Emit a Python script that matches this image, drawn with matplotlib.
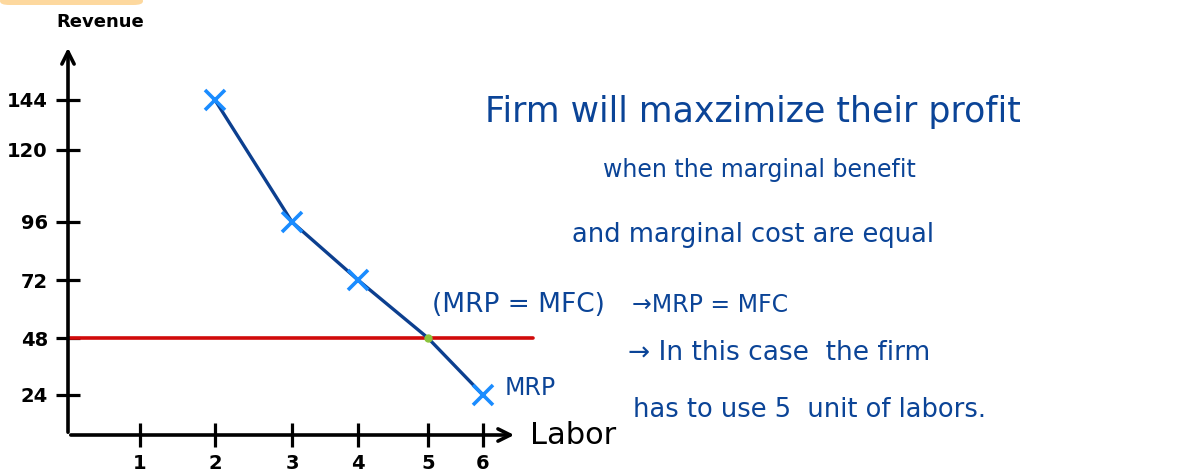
import numpy as np
import matplotlib
matplotlib.use("Agg")
import matplotlib.pyplot as plt
from matplotlib.patches import FancyBboxPatch

labor = [2, 3, 4, 5, 6]
mrp = [144, 96, 72, 48, 24]
marked_labor = [2, 3, 4, 6]
marked_mrp = [144, 96, 72, 24]
mfc = 48
y_ticks = [24, 48, 72, 96, 120, 144]
x_ticks = [1, 2, 3, 4, 5, 6]

W, H = 1192, 475
hand = ['DejaVu Sans']
navy = '#0c3f8f'
ink = '#0b4497'

# the sketch's axes are hand drawn, so tick spacing is uneven: map values to pixel offsets
x_anchor_val = [0, 1, 2, 3, 4, 5, 6, 7]
x_anchor_px = [0, 72, 147, 224, 290, 360, 415, 477]
y_anchor_val = [0, 24, 48, 72, 96, 120, 144, 170]
y_anchor_px = [0, 40, 97, 155, 213, 285, 335, 395]


def fx(v):
    return np.interp(v, x_anchor_val, x_anchor_px)


def ifx(p):
    return np.interp(p, x_anchor_px, x_anchor_val)


def fy(v):
    return np.interp(v, y_anchor_val, y_anchor_px)


def ify(p):
    return np.interp(p, y_anchor_px, y_anchor_val)


fig = plt.figure(figsize=(W / 100, H / 100), dpi=100)
ax = fig.add_axes([68 / W, 40 / H, 477 / W, 395 / H])
ax.set_xscale('function', functions=(fx, ifx))
ax.set_yscale('function', functions=(fy, ify))
ax.set_xlim(0, 7)
ax.set_ylim(0, 170)
for s in ax.spines.values():
    s.set_visible(False)

# axes with arrow heads
ax.annotate('', xy=(ifx(449), 0), xytext=(0, 0),
            arrowprops=dict(arrowstyle='->', lw=2.6, color='black', mutation_scale=22))
ax.annotate('', xy=(0, ify(390)), xytext=(0, 0),
            arrowprops=dict(arrowstyle='->', lw=2.6, color='black', mutation_scale=22))

ax.set_xticks(x_ticks)
ax.set_yticks(y_ticks)
ax.minorticks_off()
ax.tick_params(direction='inout', length=17, width=2.3, color='black', labelsize=14)
ax.tick_params(axis='x', pad=5)
ax.tick_params(axis='y', pad=6)
ax.set_xticklabels([str(v) for v in x_ticks])
ax.set_yticklabels([str(v) for v in y_ticks])
for lab in ax.get_xticklabels() + ax.get_yticklabels():
    lab.set_family(hand)
    lab.set_fontweight('bold')

# MFC line and MRP curve
ax.plot([0, ifx(465)], [mfc, mfc], color='#d10a0a', lw=2.6, solid_capstyle='round', zorder=2)
ax.plot(labor, mrp, color=navy, lw=2.4, solid_capstyle='round', zorder=3)
ax.plot(marked_labor, marked_mrp, 'x', color='#1a8cff', ms=15, mew=2.6, zorder=4)
ax.plot([5], [mfc], 'o', color='#8cc43c', ms=5, zorder=5)

fig.text(100 / W, 1 - 22 / H, 'Revenue', family=hand, fontsize=13, fontweight='bold',
         ha='center', va='center')
fig.text(530 / W, 1 - 436 / H, 'Labor', family=hand, fontsize=22, ha='left', va='center')
fig.text(505 / W, 1 - 388 / H, 'MRP', family=hand, fontsize=17, color=ink, ha='left', va='center')
fig.text(432 / W, 1 - 305 / H, '(MRP = MFC)', family=hand, fontsize=19, color=ink,
         ha='left', va='center')

lines = [
    (485, 112, 'Firm will maxzimize their profit', 25),
    (603, 170, 'when the marginal benefit', 17),
    (572, 235, 'and marginal cost are equal', 18.5),
    (632, 305, '\u2192MRP = MFC', 17),
    (628, 353, '\u2192 In this case  the firm', 19),
    (633, 410, 'has to use 5  unit of labors.', 18.5),
]
for x, y, s, fs in lines:
    fig.text(x / W, 1 - y / H, s, family=hand, fontsize=fs, color=ink, ha='left', va='center')

fig.patches.append(FancyBboxPatch((0, 1 - 5 / H), 143 / W, 8 / H, transform=fig.transFigure,
                                  boxstyle='round,pad=0,rounding_size=0.008',
                                  facecolor='#fdd89e', edgecolor='none'))

fig.savefig('out.png', dpi=100)
